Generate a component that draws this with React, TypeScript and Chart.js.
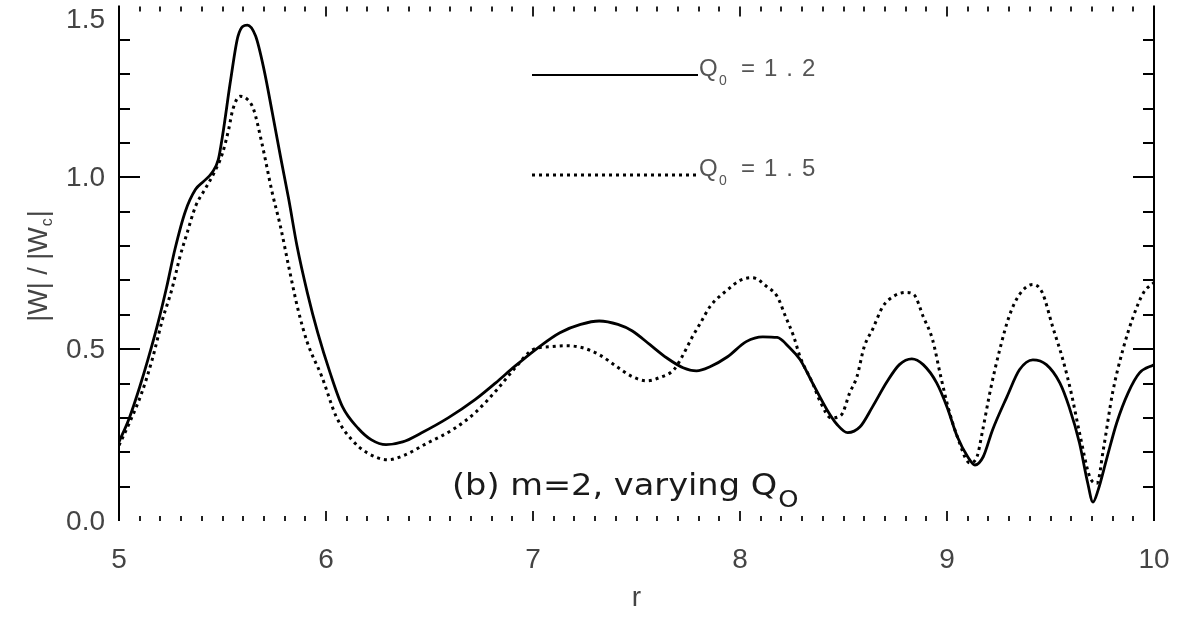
import React, { useEffect, useRef } from 'react';
import { Chart, registerables } from 'chart.js';

Chart.register(...registerables);

// ---- data ----
const rSolid = [
  5.0, 5.05, 5.1, 5.14, 5.19, 5.23, 5.27, 5.32, 5.37, 5.41, 5.45, 5.48, 5.5, 5.54, 5.575, 5.62, 5.66, 5.7,
  5.74, 5.78, 5.82, 5.86, 5.91, 5.96, 6.02, 6.08, 6.155, 6.22, 6.29, 6.37, 6.46, 6.59, 6.72, 6.82, 6.91,
  7.03, 7.13, 7.23, 7.32, 7.41, 7.48, 7.565, 7.645, 7.725, 7.79, 7.855, 7.94, 8.03, 8.11, 8.18, 8.24,
  8.29, 8.35, 8.42, 8.47, 8.52, 8.58, 8.64, 8.71, 8.77, 8.83, 8.885, 8.95, 9.0, 9.05, 9.1, 9.135, 9.175,
  9.22, 9.29, 9.35, 9.415, 9.48, 9.545, 9.59, 9.64, 9.68, 9.705, 9.73, 9.77, 9.82, 9.875, 9.93, 10.0,
];
const wSolid = [
  0.23, 0.3, 0.39, 0.47, 0.58, 0.68, 0.79, 0.9, 0.965, 0.989, 1.014, 1.052, 1.12, 1.286, 1.411, 1.443, 1.411, 1.315,
  1.19, 1.061, 0.936, 0.8, 0.664, 0.548, 0.431, 0.332, 0.27, 0.236, 0.222, 0.23, 0.256, 0.3, 0.353, 0.402, 0.449,
  0.507, 0.548, 0.572, 0.582, 0.572, 0.553, 0.513, 0.475, 0.446, 0.437, 0.449, 0.478, 0.522, 0.536, 0.534, 0.504,
  0.47, 0.402, 0.324, 0.28, 0.257, 0.274, 0.332, 0.405, 0.455, 0.472, 0.455, 0.402, 0.332, 0.245, 0.187, 0.163, 0.187,
  0.265, 0.362, 0.44, 0.469, 0.455, 0.402, 0.332, 0.227, 0.11, 0.055, 0.09, 0.178, 0.286, 0.373, 0.431, 0.455,
];
const rDotted = [
  5.0, 5.05, 5.11, 5.16, 5.21, 5.255, 5.295, 5.33, 5.37, 5.415, 5.46, 5.5, 5.53, 5.55, 5.585, 5.62, 5.65, 5.69,
  5.74, 5.78, 5.82, 5.865, 5.91, 5.98, 6.05, 6.125, 6.2, 6.3, 6.38, 6.49, 6.61, 6.72, 6.83, 6.92, 7.0,
  7.08, 7.16, 7.24, 7.32, 7.405, 7.48, 7.55, 7.61, 7.68, 7.72, 7.77, 7.81, 7.855, 7.94, 8.0, 8.06, 8.13,
  8.18, 8.22, 8.26, 8.29, 8.35, 8.39, 8.44, 8.49, 8.53, 8.565, 8.6, 8.64, 8.69, 8.74, 8.8, 8.84, 8.885,
  8.93, 8.97, 9.005, 9.05, 9.11, 9.145, 9.17, 9.21, 9.255, 9.3, 9.35, 9.415, 9.46, 9.51, 9.56, 9.6, 9.64,
  9.69, 9.725, 9.755, 9.8, 9.85, 9.9, 9.95, 10.0,
];
const wDotted = [
  0.22, 0.285, 0.373, 0.469, 0.586, 0.673, 0.77, 0.84, 0.916, 0.965, 1.014, 1.07, 1.14, 1.198, 1.236, 1.227, 1.198, 1.1,
  0.956, 0.857, 0.74, 0.615, 0.519, 0.42, 0.303, 0.236, 0.198, 0.178, 0.192, 0.227, 0.265, 0.315, 0.385, 0.45, 0.499,
  0.507, 0.51, 0.504, 0.484, 0.449, 0.42, 0.408, 0.417, 0.44, 0.478, 0.536, 0.577, 0.624, 0.673, 0.7, 0.708, 0.682,
  0.653, 0.595, 0.536, 0.478, 0.402, 0.344, 0.3, 0.309, 0.373, 0.42, 0.507, 0.557, 0.624, 0.653, 0.665, 0.659, 0.595,
  0.528, 0.42, 0.332, 0.245, 0.169, 0.187, 0.257, 0.382, 0.499, 0.595, 0.659, 0.688, 0.665, 0.566, 0.469, 0.373, 0.257,
  0.128, 0.11, 0.207, 0.373, 0.499, 0.595, 0.665, 0.694,
];
const xTickValues = [5, 6, 7, 8, 9, 10];
const yTickValues = [0, 0.5, 1.0, 1.5];
const yTickLabels = ['0.0', '0.5', '1.0', '1.5'];
const seriesQ0 = ['1.2', '1.5'];
const annotationText = '(b) m=2, varying Q';
const annotationSub = 'O';

const TICK_FONT = '"Liberation Sans", Arial, sans-serif';
const TEXT_GREY = '#444';

const framePlugin = {
  id: 'frame',
  afterDraw(chart: any) {
    const { ctx, chartArea } = chart;
    const xs = chart.scales.x;
    const ys = chart.scales.y;
    const { left, right, top, bottom } = chartArea;
    ctx.save();
    // vertical axis lines
    ctx.strokeStyle = '#000';
    ctx.lineWidth = 2;
    ctx.beginPath();
    ctx.moveTo(left, top);
    ctx.lineTo(left, bottom);
    ctx.moveTo(right, top);
    ctx.lineTo(right, bottom);
    ctx.stroke();
    // y ticks (every 0.1), inward on both sides
    ctx.lineWidth = 2;
    ctx.beginPath();
    for (let i = 1; i < 15; i++) {
      const py = Math.round(ys.getPixelForValue(i / 10));
      const len = i % 5 === 0 ? 21 : 11;
      ctx.moveTo(left, py);
      ctx.lineTo(left + len, py);
      ctx.moveTo(right, py);
      ctx.lineTo(right - len, py);
    }
    ctx.stroke();
    // x ticks (every 0.1), inward at top and bottom
    ctx.strokeStyle = '#222';
    ctx.beginPath();
    for (let i = 1; i < 50; i++) {
      const px = Math.round(xs.getPixelForValue(5 + i / 10));
      const len = i % 10 === 0 ? 10 : 5;
      ctx.moveTo(px, top + 1);
      ctx.lineTo(px, top + 1 + len);
      ctx.moveTo(px, bottom);
      ctx.lineTo(px, bottom - len);
    }
    ctx.stroke();

    // y tick labels from the y scale
    ctx.fillStyle = TEXT_GREY;
    ctx.font = `28px ${TICK_FONT}`;
    ctx.textAlign = 'right';
    ctx.textBaseline = 'middle';
    yTickValues.forEach((v, i) => {
      const py = Math.max(ys.getPixelForValue(v), 19);
      ctx.fillText(yTickLabels[i], left - 14, py + 1);
    });

    // y axis title |W| / |Wc| (rotated)
    ctx.save();
    ctx.translate(38, 266);
    ctx.rotate(-Math.PI / 2);
    ctx.textBaseline = 'alphabetic';
    ctx.textAlign = 'left';
    const main1 = '|W| / |W';
    ctx.font = `27px ${TICK_FONT}`;
    const w1 = ctx.measureText(main1).width;
    ctx.font = `16px ${TICK_FONT}`;
    const w2 = ctx.measureText('c').width;
    ctx.font = `27px ${TICK_FONT}`;
    const w3 = ctx.measureText('|').width;
    const total = w1 + w2 + w3 + 2;
    let tx = -total / 2;
    ctx.fillText(main1, tx, 9);
    tx += w1 + 1;
    ctx.font = `16px ${TICK_FONT}`;
    ctx.fillText('c', tx, 14);
    tx += w2 + 1;
    ctx.font = `27px ${TICK_FONT}`;
    ctx.fillText('|', tx, 9);
    ctx.restore();

    // legend
    const legendY = [75, 175];
    ctx.strokeStyle = '#000';
    legendY.forEach((ly, i) => {
      ctx.beginPath();
      if (i === 1) {
        ctx.setLineDash([3, 4]);
        ctx.lineWidth = 3;
      } else {
        ctx.setLineDash([]);
        ctx.lineWidth = 2;
      }
      ctx.moveTo(532, ly);
      ctx.lineTo(698, ly);
      ctx.stroke();
      ctx.setLineDash([]);
      ctx.fillStyle = '#555';
      ctx.textAlign = 'left';
      ctx.textBaseline = 'alphabetic';
      ctx.font = `24px ${TICK_FONT}`;
      ctx.fillText('Q', 699, ly + 1);
      ctx.font = `14px ${TICK_FONT}`;
      ctx.fillText('0', 719, ly + 10);
      ctx.font = `24px ${TICK_FONT}`;
      ctx.fillText('=', 741, ly + 1);
      (ctx as any).letterSpacing = '9px';
      ctx.fillText(seriesQ0[i], 764, ly + 1);
      (ctx as any).letterSpacing = '0px';
    });

    // annotation
    ctx.save();
    ctx.fillStyle = '#1a1a1a';
    ctx.textAlign = 'left';
    ctx.textBaseline = 'alphabetic';
    ctx.translate(452, 495);
    ctx.scale(1.12, 1);
    ctx.font = `30px "DejaVu Sans", sans-serif`;
    ctx.fillText(annotationText, 0, 0);
    const aw = ctx.measureText(annotationText).width;
    ctx.font = `23px "DejaVu Sans", sans-serif`;
    ctx.fillText(annotationSub, aw + 1, 12);
    ctx.restore();

    ctx.restore();
  },
};

export default function App() {
  const ref = useRef<HTMLCanvasElement | null>(null);
  useEffect(() => {
    document.body.style.margin = '0';
    const canvas = ref.current;
    if (!canvas) return;
    const chart = new Chart(canvas, {
      type: 'line',
      data: {
        datasets: [
          {
            label: 'Q0=1.2',
            data: rSolid.map((r, i) => ({ x: r, y: wSolid[i] })),
            borderColor: '#000',
            borderWidth: 2.8,
            pointRadius: 0,
            cubicInterpolationMode: 'monotone',
            fill: false,
          },
          {
            label: 'Q0=1.5',
            data: rDotted.map((r, i) => ({ x: r, y: wDotted[i] })),
            borderColor: '#000',
            borderWidth: 3,
            borderDash: [3, 4],
            pointRadius: 0,
            cubicInterpolationMode: 'monotone',
            fill: false,
          },
        ],
      },
      options: {
        animation: false,
        responsive: false,
        maintainAspectRatio: false,
        layout: { padding: { left: 0, right: 42, top: 5.5, bottom: 0 } },
        plugins: { legend: { display: false }, tooltip: { enabled: false } },
        scales: {
          x: {
            type: 'linear',
            min: 5,
            max: 10,
            grid: { display: false, drawTicks: false },
            border: { display: false },
            afterBuildTicks: (s: any) => {
              s.ticks = xTickValues.map((v) => ({ value: v }));
            },
            ticks: {
              autoSkip: false,
              maxRotation: 0,
              padding: 22,
              color: TEXT_GREY,
              font: { family: TICK_FONT, size: 28 },
              callback: (v: any) => String(v),
            },
            title: {
              display: true,
              text: 'r',
              color: TEXT_GREY,
              font: { family: TICK_FONT, size: 28 },
              padding: { top: 0, bottom: 2 },
            },
            afterFit: (s: any) => {
              s.height = 96;
              s.paddingLeft = 0;
              s.paddingRight = 0;
            },
          },
          y: {
            type: 'linear',
            min: 0,
            max: 1.5,
            grid: { display: false, drawTicks: false },
            border: { display: false },
            ticks: { display: false, stepSize: 0.5 },
            afterFit: (s: any) => {
              s.width = 119;
              s.paddingTop = 0;
              s.paddingBottom = 0;
            },
          },
        },
      },
      plugins: [framePlugin],
    } as any);
    return () => chart.destroy();
  }, []);
  return (
    <div style={{ width: 1196, height: 617, background: '#fff' }}>
      <canvas ref={ref} width={1196} height={617} style={{ display: 'block' }} />
    </div>
  );
}
